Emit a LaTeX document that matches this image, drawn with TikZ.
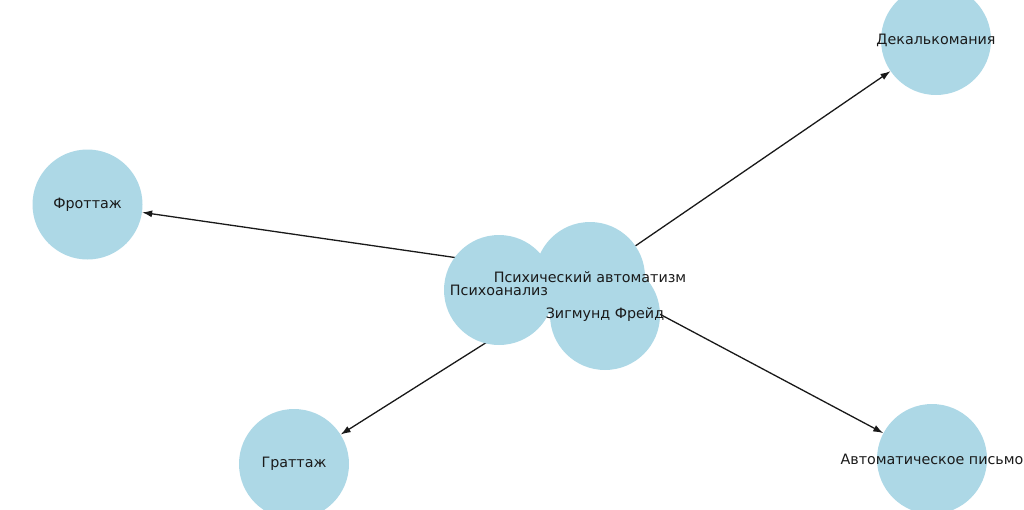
\documentclass[tikz,border=0pt]{standalone}
\usepackage{fontspec}
\setmainfont{DejaVu Sans}
\usetikzlibrary{arrows.meta}
\pgfdeclarelayer{bg}
\pgfsetlayers{bg,main}
\definecolor{nodeblue}{HTML}{ADD8E6}
\definecolor{txt}{HTML}{1A1A1A}
\tikzset{
  vert/.style={circle,fill=nodeblue,draw=none,minimum size=110pt,inner sep=0pt},
  lbl/.style={text=txt,font=\fontsize{14.3pt}{16pt}\selectfont,inner sep=0pt},
  edge/.style={draw=black!90,line width=1.3pt,-{Latex[length=10pt,width=7pt]}}
}
\begin{document}
\begin{tikzpicture}[x=1pt,y=-1pt]
\useasboundingbox (0,0) rectangle (1024,509);
\node[vert] (dec) at (936,40) {};
\node[vert] (fro) at (87.5,204.5) {};
\node[vert] (gra) at (294,464) {};
\node[vert] (avw) at (932,459) {};
\node[vert] (pa) at (499,290) {};
\node[vert] (psa) at (590,277) {};
\node[vert] (fr) at (605,315) {};
\begin{pgfonlayer}{bg}
\draw[edge] (psa) -- (dec);
\draw[edge] (psa) -- (fro);
\draw[edge] (psa) -- (gra);
\draw[edge] (psa) -- (avw);
\end{pgfonlayer}
\node[lbl] (tdec) at (dec.center) {Декалькомания};
\node[lbl] (tfro) at (fro.center) {Фроттаж};
\node[lbl] (tgra) at (gra.center) {Граттаж};
\node[lbl] (tavw) at (avw.center) {Автоматическое письмо};
\node[lbl] (tpa) at (pa.center) {Психоанализ};
\node[lbl] (tpsa) at (psa.center) {Психический автоматизм};
\node[lbl] (tfr) at (fr.center) {Зигмунд Фрейд};
\end{tikzpicture}
\end{document}
